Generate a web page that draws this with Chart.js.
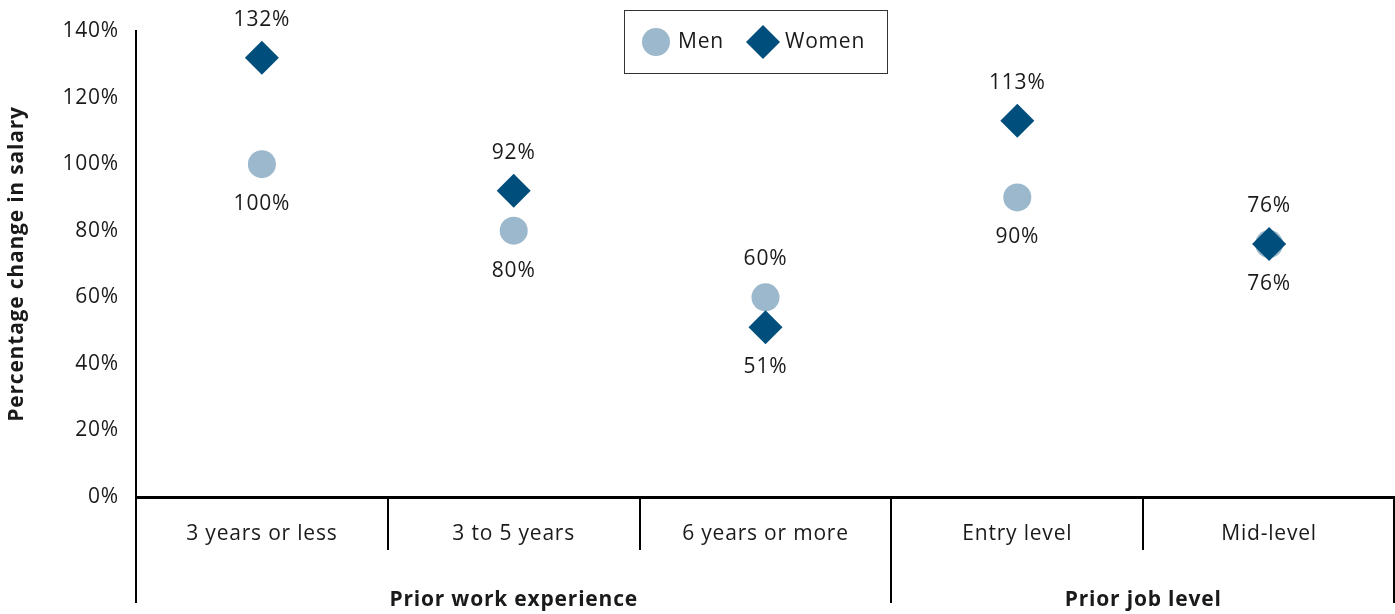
<!DOCTYPE html>
<html>
<head>
<meta charset="utf-8">
<script src="https://cdn.jsdelivr.net/npm/chart.js@4.4.1/dist/chart.umd.min.js"></script>
<style>
  html, body { margin: 0; padding: 0; background: #fff; overflow: hidden; }
  #wrap { width: 1395px; height: 614px; position: relative; }
  #chart { display: block; }
</style>
</head>
<body>
<div id="wrap"><canvas id="chart"></canvas></div>
<script>
// Data
const categories = ['3 years or less', '3 to 5 years', '6 years or more', 'Entry level', 'Mid-level'];
const groupNames = ['Prior work experience', 'Prior job level'];
const groupSizes = [3, 2];
const menValues = [100, 80, 60, 90, 76];
const womenValues = [132, 92, 51, 113, 76];
const yMin = 0, yMax = 140, yStep = 20;

const menColor = '#9bb8cc';
const womenColor = '#004e7c';
const textColor = '#1a1a1a';
const fontFamily = '"Open Sans", "Noto Sans", sans-serif';

// wider letter spacing to get closer to the original's wide typeface
const spacing = {
    id: 'spacing',
    beforeDraw(chart) { chart.ctx.letterSpacing = '0.8px'; }
};

// Labels, separators, group names and the boxed legend
const annotate = {
    id: 'annotate',
    afterDatasetsDraw(chart) {
        const ctx = chart.ctx;
        ctx.save();
        ctx.font = '21px ' + fontFamily;
        ctx.fillStyle = textColor;
        ctx.textAlign = 'center';
        ctx.textBaseline = 'middle';
        const men = chart.data.datasets[0].data;
        const women = chart.data.datasets[1].data;
        chart.data.datasets.forEach((ds, di) => {
            const meta = chart.getDatasetMeta(di);
            meta.data.forEach((pt, i) => {
                const v = ds.data[i];
                const above = di === 1 ? v >= men[i] : v > women[i];
                ctx.fillText(v + '%', pt.x, pt.y + (above ? -38 : 40));
            });
        });
        ctx.restore();
    },
    afterDraw(chart) {
        const ctx = chart.ctx;
        const x = chart.scales.x;
        const area = chart.chartArea;
        const half = (x.getPixelForValue(1) - x.getPixelForValue(0)) / 2;
        const edge = i => x.getPixelForValue(i) - half;

        ctx.save();
        ctx.strokeStyle = '#000';
        ctx.lineWidth = 2;
        // boundaries that close a group go further down
        const groupEnds = [0];
        groupSizes.reduce((s, n) => { groupEnds.push(s + n); return s + n; }, 0);
        for (let i = 0; i <= categories.length; i++) {
            const px = Math.round(edge(i)) - (i === categories.length ? 1 : 0);
            const long = groupEnds.includes(i);
            ctx.beginPath();
            ctx.moveTo(px, area.bottom);
            ctx.lineTo(px, area.bottom + (long ? 106 : 53));
            ctx.stroke();
        }

        // group names
        ctx.font = 'bold 21px ' + fontFamily;
        ctx.fillStyle = textColor;
        ctx.textAlign = 'center';
        ctx.textBaseline = 'middle';
        let start = 0;
        groupNames.forEach((g, k) => {
            const end = start + groupSizes[k];
            ctx.fillText(g, (edge(start) + edge(end)) / 2, area.bottom + 103);
            start = end;
        });

        // legend
        ctx.lineWidth = 1;
        ctx.strokeStyle = '#333';
        ctx.strokeRect(624.5, 10.5, 263, 63);
        ctx.fillStyle = menColor;
        ctx.beginPath();
        ctx.arc(656, 42, 14, 0, Math.PI * 2);
        ctx.fill();
        ctx.fillStyle = womenColor;
        ctx.beginPath();
        ctx.moveTo(763, 25);
        ctx.lineTo(780, 42);
        ctx.lineTo(763, 59);
        ctx.lineTo(746, 42);
        ctx.closePath();
        ctx.fill();
        ctx.font = '21px ' + fontFamily;
        ctx.fillStyle = textColor;
        ctx.textAlign = 'left';
        ctx.fillText(chart.data.datasets[0].label, 678, 42);
        ctx.fillText(chart.data.datasets[1].label, 785, 42);
        ctx.restore();
    }
};

window.addEventListener('load', function() {
    const ctx = document.getElementById('chart').getContext('2d');
    new Chart(ctx, {
        type: 'line',
        data: {
            labels: categories,
            datasets: [{
                label: 'Men',
                data: menValues,
                showLine: false,
                pointStyle: 'circle',
                pointRadius: 14,
                pointHoverRadius: 14,
                pointBorderWidth: 0,
                backgroundColor: menColor,
                borderColor: menColor,
                order: 1
            }, {
                label: 'Women',
                data: womenValues,
                showLine: false,
                pointStyle: 'rectRot',
                pointRadius: 17,
                pointHoverRadius: 17,
                pointBorderWidth: 0,
                backgroundColor: womenColor,
                borderColor: womenColor,
                order: 0
            }]
        },
        options: {
            responsive: true,
            maintainAspectRatio: false,
            animation: false,
            events: [],
            layout: {
                autoPadding: false,
                padding: { top: 31, left: 0, right: 0, bottom: 0 }
            },
            scales: {
                x: {
                    offset: true,
                    grid: { display: false, drawTicks: false },
                    border: { display: true, color: '#000', width: 3 },
                    ticks: {
                        padding: 24,
                        color: textColor,
                        font: { family: fontFamily, size: 21 },
                        maxRotation: 0,
                        autoSkip: false
                    },
                    afterFit(scale) {
                        scale.height = 117;
                        scale.paddingLeft = 0;
                        scale.paddingRight = 0;
                    }
                },
                y: {
                    min: yMin,
                    max: yMax,
                    grid: { display: false, drawTicks: false },
                    border: { display: true, color: '#000', width: 2 },
                    ticks: {
                        stepSize: yStep,
                        padding: 17,
                        color: textColor,
                        font: { family: fontFamily, size: 21 },
                        callback: v => v + '%'
                    },
                    title: {
                        display: true,
                        text: 'Percentage change in salary',
                        color: textColor,
                        font: { family: fontFamily, size: 21, weight: 'bold' },
                        padding: { top: 4, bottom: 0 }
                    },
                    afterFit(scale) { scale.width = 136; }
                }
            },
            plugins: {
                legend: { display: false },
                tooltip: { enabled: false }
            }
        },
        plugins: [spacing, annotate]
    });
});
</script>
</body>
</html>
